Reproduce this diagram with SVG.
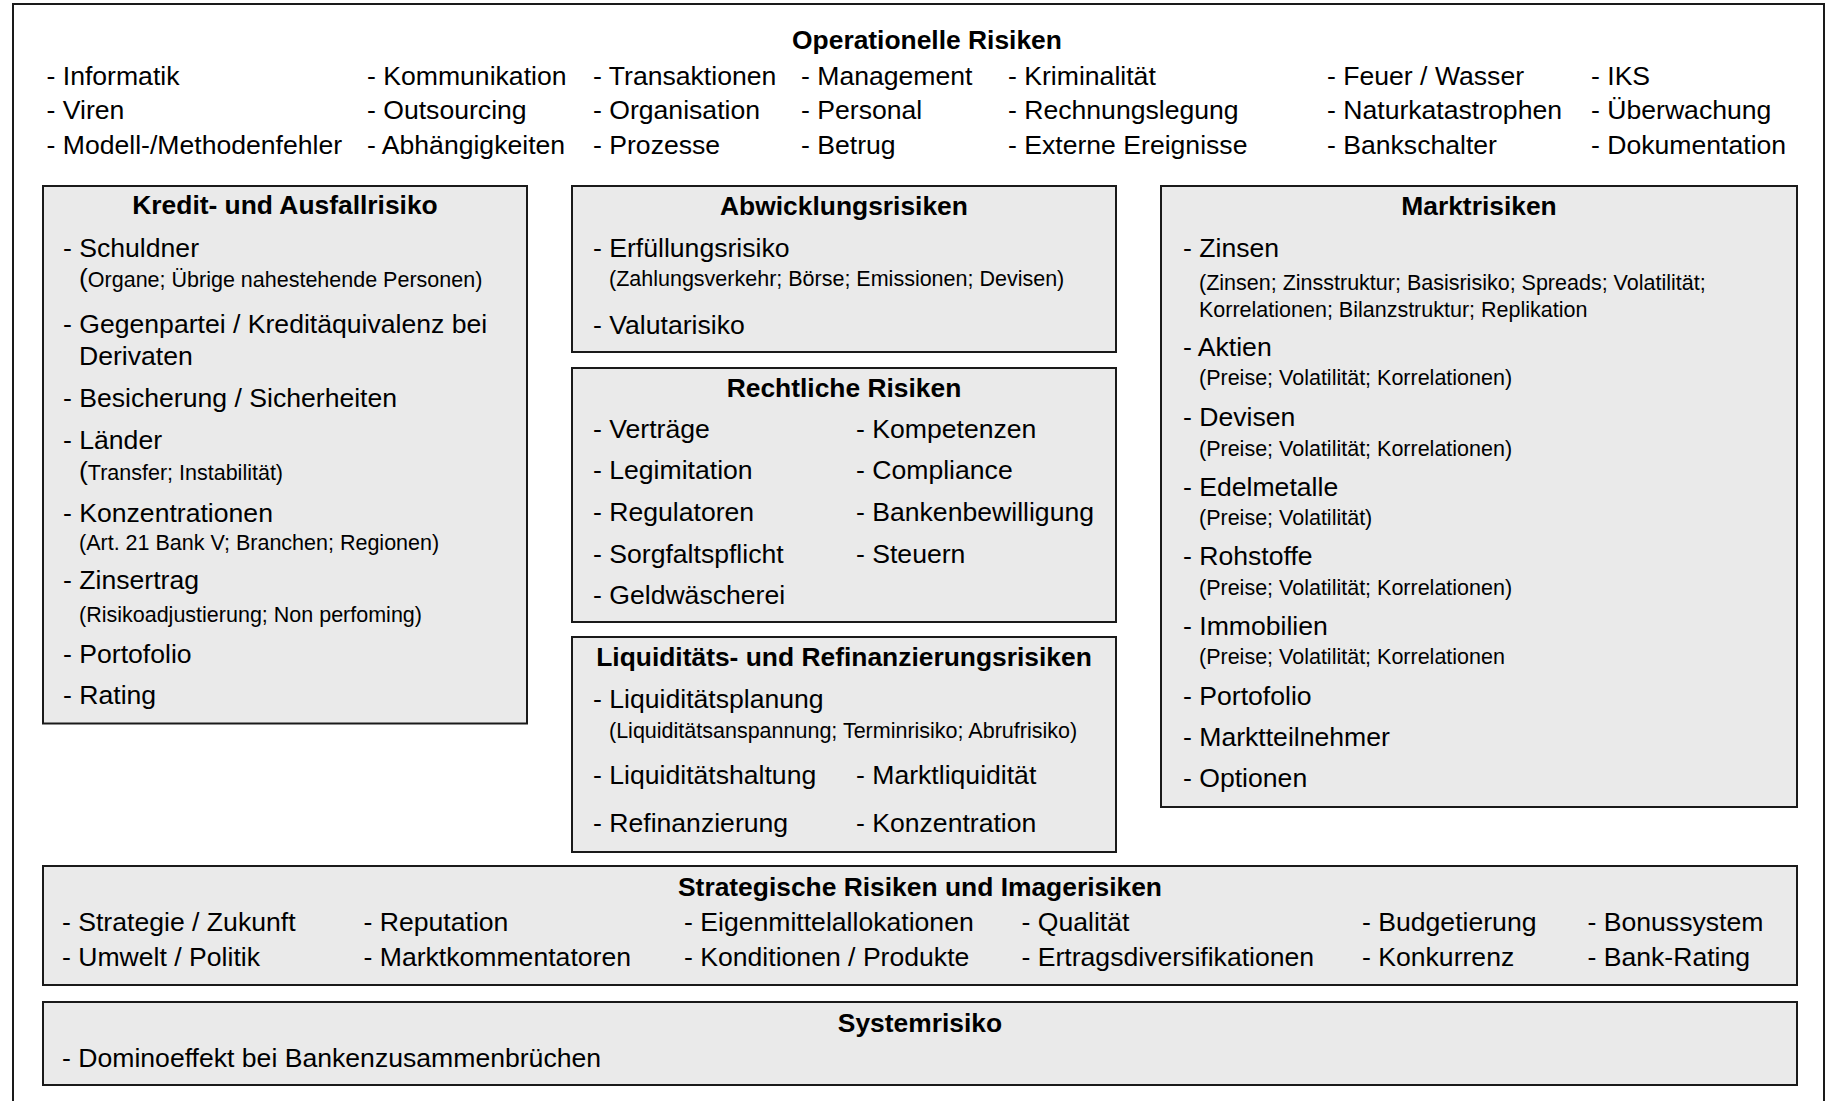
<svg xmlns="http://www.w3.org/2000/svg" width="1833" height="1101" viewBox="0 0 1833 1101">
<style>
text{font-family:"Liberation Sans",Arial,sans-serif;font-size:26.6px;fill:#000}
.b{font-weight:bold;font-size:26.4px}
.c{text-anchor:middle}
.s{font-size:21.5px}
.box{fill:#eaeaea;stroke:#1a1a1a;stroke-width:2}
.frame{fill:#fff;stroke:#1a1a1a;stroke-width:2}
</style>
<rect x="0" y="0" width="1833" height="1101" fill="#fff"/>
<g id="frame"><rect class="frame" x="13" y="4" width="1811" height="1110"/></g>
<g id="connectors"/>
<g id="operationelle">
<text class="b c" x="927" y="49">Operationelle Risiken</text>
<text x="46.5" y="84.5">- Informatik</text>
<text x="367" y="84.5">- Kommunikation</text>
<text x="593" y="84.5">- Transaktionen</text>
<text x="801" y="84.5">- Management</text>
<text x="1008" y="84.5">- Kriminalität</text>
<text x="1327" y="84.5">- Feuer / Wasser</text>
<text x="1591" y="84.5">- IKS</text>
<text x="46.5" y="119">- Viren</text>
<text x="367" y="119">- Outsourcing</text>
<text x="593" y="119">- Organisation</text>
<text x="801" y="119">- Personal</text>
<text x="1008" y="119">- Rechnungslegung</text>
<text x="1327" y="119">- Naturkatastrophen</text>
<text x="1591" y="119">- Überwachung</text>
<text x="46.5" y="153.5">- Modell-/Methodenfehler</text>
<text x="367" y="153.5">- Abhängigkeiten</text>
<text x="593" y="153.5">- Prozesse</text>
<text x="801" y="153.5">- Betrug</text>
<text x="1008" y="153.5">- Externe Ereignisse</text>
<text x="1327" y="153.5">- Bankschalter</text>
<text x="1591" y="153.5">- Dokumentation</text>
</g>
<g id="kredit">
<rect class="box" x="43" y="186" width="484" height="537.5"/>
<text class="b c" x="285" y="213.5">Kredit- und Ausfallrisiko</text>
<text x="63" y="256.5">- Schuldner</text>
<text x="79" y="286.5">(<tspan class="s">Organe; Übrige nahestehende Personen)</tspan></text>
<text x="63" y="333">- Gegenpartei / Kreditäquivalenz bei</text>
<text x="79" y="364.5">Derivaten</text>
<text x="63" y="406.5">- Besicherung / Sicherheiten</text>
<text x="63" y="448.5">- Länder</text>
<text x="79" y="479.5">(<tspan class="s">Transfer; Instabilität)</tspan></text>
<text x="63" y="521.5">- Konzentrationen</text>
<text class="s" x="79" y="549.5">(Art. 21 Bank V; Branchen; Regionen)</text>
<text x="63" y="588.5">- Zinsertrag</text>
<text class="s" x="79" y="621.5">(Risikoadjustierung; Non perfoming)</text>
<text x="63" y="662.5">- Portofolio</text>
<text x="63" y="704">- Rating</text>
</g>
<g id="abwicklung">
<rect class="box" x="572" y="186" width="544" height="166"/>
<text class="b c" x="844" y="215">Abwicklungsrisiken</text>
<text x="593" y="256.5">- Erfüllungsrisiko</text>
<text class="s" x="609" y="286">(Zahlungsverkehr; Börse; Emissionen; Devisen)</text>
<text x="593" y="333.5">- Valutarisiko</text>
</g>
<g id="rechtliche">
<rect class="box" x="572" y="368" width="544" height="254"/>
<text class="b c" x="844" y="396.5">Rechtliche Risiken</text>
<text x="593" y="437.5">- Verträge</text>
<text x="856" y="437.5">- Kompetenzen</text>
<text x="593" y="479">- Legimitation</text>
<text x="856" y="479">- Compliance</text>
<text x="593" y="521">- Regulatoren</text>
<text x="856" y="521">- Bankenbewilligung</text>
<text x="593" y="562.5">- Sorgfaltspflicht</text>
<text x="856" y="562.5">- Steuern</text>
<text x="593" y="604">- Geldwäscherei</text>
</g>
<g id="liquiditaet">
<rect class="box" x="572" y="637" width="544" height="215"/>
<text class="b c" x="844" y="666">Liquiditäts- und Refinanzierungsrisiken</text>
<text x="593" y="707.5">- Liquiditätsplanung</text>
<text class="s" x="609" y="738">(Liquiditätsanspannung; Terminrisiko; Abrufrisiko)</text>
<text x="593" y="784">- Liquiditätshaltung</text>
<text x="856" y="784">- Marktliquidität</text>
<text x="593" y="832">- Refinanzierung</text>
<text x="856" y="832">- Konzentration</text>
</g>
<g id="markt">
<rect class="box" x="1161" y="186" width="636" height="621"/>
<text class="b c" x="1479" y="215">Marktrisiken</text>
<text x="1183" y="257">- Zinsen</text>
<text class="s" x="1199" y="289.5">(Zinsen; Zinsstruktur; Basisrisiko; Spreads; Volatilität;</text>
<text class="s" x="1199" y="316.5">Korrelationen; Bilanzstruktur; Replikation</text>
<text x="1183" y="355.5">- Aktien</text>
<text class="s" x="1199" y="385">(Preise; Volatilität; Korrelationen)</text>
<text x="1183" y="426">- Devisen</text>
<text class="s" x="1199" y="455.5">(Preise; Volatilität; Korrelationen)</text>
<text x="1183" y="495.5">- Edelmetalle</text>
<text class="s" x="1199" y="525">(Preise; Volatilität)</text>
<text x="1183" y="565">- Rohstoffe</text>
<text class="s" x="1199" y="594.5">(Preise; Volatilität; Korrelationen)</text>
<text x="1183" y="634.5">- Immobilien</text>
<text class="s" x="1199" y="664">(Preise; Volatilität; Korrelationen</text>
<text x="1183" y="704.5">- Portofolio</text>
<text x="1183" y="745.5">- Marktteilnehmer</text>
<text x="1183" y="786.5">- Optionen</text>
</g>
<g id="strategische">
<rect class="box" x="43" y="866" width="1754" height="119"/>
<text class="b c" x="920" y="895.5">Strategische Risiken und Imagerisiken</text>
<text x="62" y="930.5">- Strategie / Zukunft</text>
<text x="363.5" y="930.5">- Reputation</text>
<text x="684" y="930.5">- Eigenmittelallokationen</text>
<text x="1021.5" y="930.5">- Qualität</text>
<text x="1362" y="930.5">- Budgetierung</text>
<text x="1587.5" y="930.5">- Bonussystem</text>
<text x="62" y="965.5">- Umwelt / Politik</text>
<text x="363.5" y="965.5">- Marktkommentatoren</text>
<text x="684" y="965.5">- Konditionen / Produkte</text>
<text x="1021.5" y="965.5">- Ertragsdiversifikationen</text>
<text x="1362" y="965.5">- Konkurrenz</text>
<text x="1587.5" y="965.5">- Bank-Rating</text>
</g>
<g id="systemrisiko">
<rect class="box" x="43" y="1002" width="1754" height="83"/>
<text class="b c" x="920" y="1031.5">Systemrisiko</text>
<text x="62" y="1066.5">- Dominoeffekt bei Bankenzusammenbrüchen</text>
</g>
</svg>
